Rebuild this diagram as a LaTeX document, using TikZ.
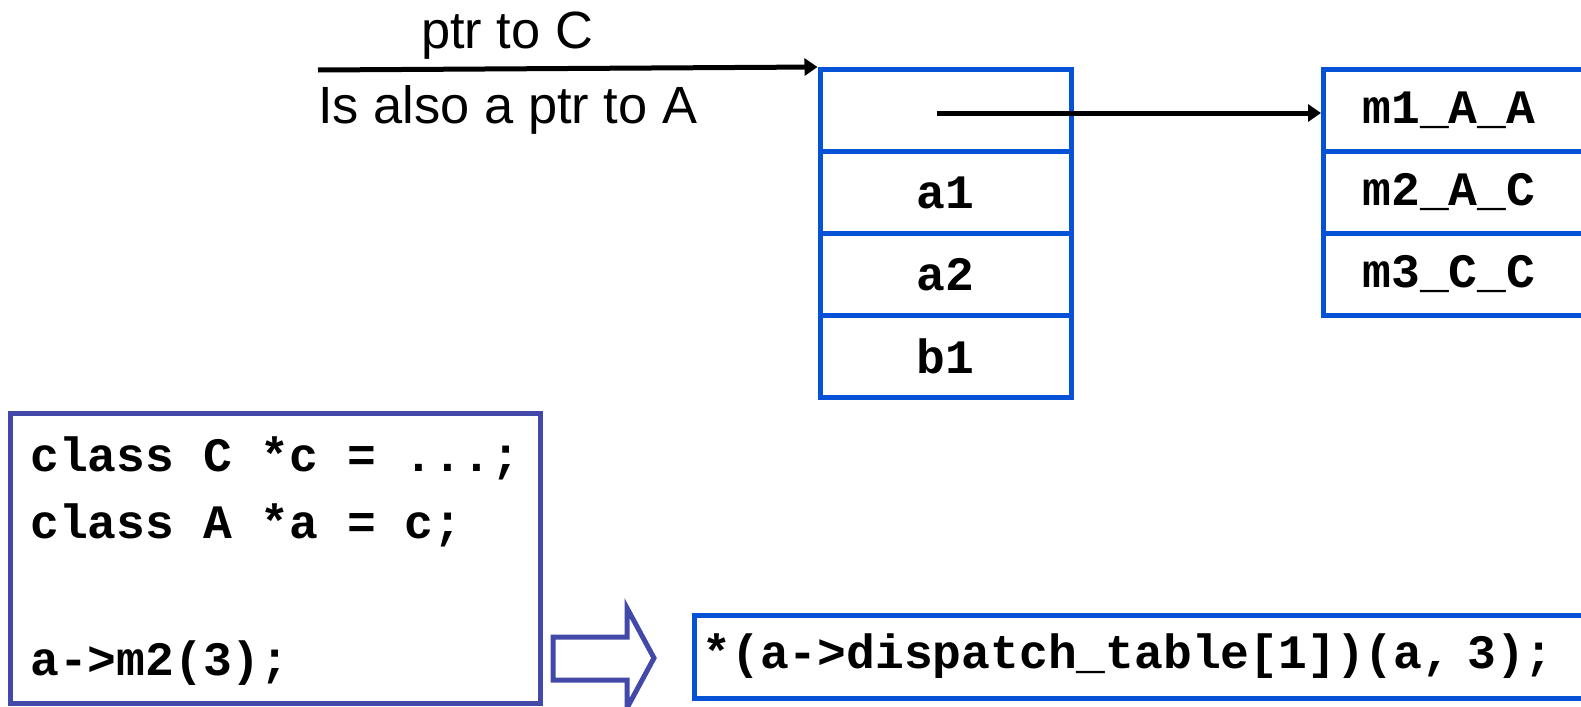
\documentclass[tikz,border=0pt]{standalone}
\usepackage{fontspec}
\setmainfont{Liberation Sans}
\setmonofont{Liberation Mono}
\usetikzlibrary{arrows.meta}
\definecolor{boxblue}{RGB}{5,82,214}
\definecolor{indig}{RGB}{67,73,168}
\tikzset{
  cell/.style={draw=boxblue, line width=2.5pt, rectangle, inner sep=0pt,
    minimum width=125.5pt, minimum height=41pt, font=\codefont},
  vcell/.style={draw=boxblue, line width=2.5pt, rectangle, inner xsep=19.5pt, inner ysep=0pt,
    minimum width=150pt, minimum height=41pt, text width=111pt, align=left, anchor=west, font=\codefont},
  codeline/.style={anchor=west, inner sep=0pt, font=\codefont},
  ptr/.style={line width=2.5pt, -{Triangle[length=6.5pt,width=8.5pt]}},
  lbl/.style={inner sep=0pt, font=\labelfont}
}
\newcommand{\codefont}{\ttfamily\bfseries\fontsize{24}{28}\selectfont}
\newcommand{\labelfont}{\fontsize{26.2}{30}\selectfont}
\begin{document}
\begin{tikzpicture}[x=0.5pt,y=-0.5pt]
\useasboundingbox (0,0) rectangle (1581,707);
\clip (0,0) rectangle (1581,707);
% object layout
\node[cell] (obj0) at (945.5,110.5) {};
\node[cell] (obj1) at (945.5,192.5) {a1};
\node[cell] (obj2) at (945.5,274.5) {a2};
\node[cell] (obj3) at (945.5,356.5) {b1};
% dispatch table
\node[vcell] (m1) at (1321,110.5) {m1\_A\_A};
\node[vcell] (m2) at (1321,192.5) {m2\_A\_C};
\node[vcell] (m3) at (1321,274.5) {m3\_C\_C};
% pointer labels
\coordinate (pstart) at (318,70);
\node[lbl] (lc) at (507,36) {ptr to C};
\node[lbl, anchor=west] (la) at (318,110) {Is also a ptr to A};
\draw[ptr] (pstart) -- (obj0.north west);
\coordinate (vstart) at (937,113);
\draw[ptr] (vstart) -- (m1.west |- vstart);
% code box
\node[draw=indig, line width=2.5pt, rectangle, minimum width=265pt, minimum height=145pt, inner sep=0pt] (code) at (275,558) {};
\node[codeline] (c1) at (30,458) {class C *c = ...;};
\node[codeline] (c2) at (30,525) {class A *a = c;};
\node[codeline] (c3) at (30,663) {a->m2(3);};
% hollow arrow
\draw[indig, line width=2.5pt, line join=miter] (553,637) -- (627,637) -- (627,608) -- (654,658) -- (627,708) -- (627,680) -- (553,680) -- cycle;
% translated call
\node[draw=boxblue, line width=2.5pt, rectangle, anchor=west, inner xsep=4pt, inner ysep=0pt,
  minimum height=41.5pt, text width=452pt, align=left, font=\codefont] (call) at (692,656.5) {*(a->dispatch\_table[1])(a, 3);};
\end{tikzpicture}
\end{document}
